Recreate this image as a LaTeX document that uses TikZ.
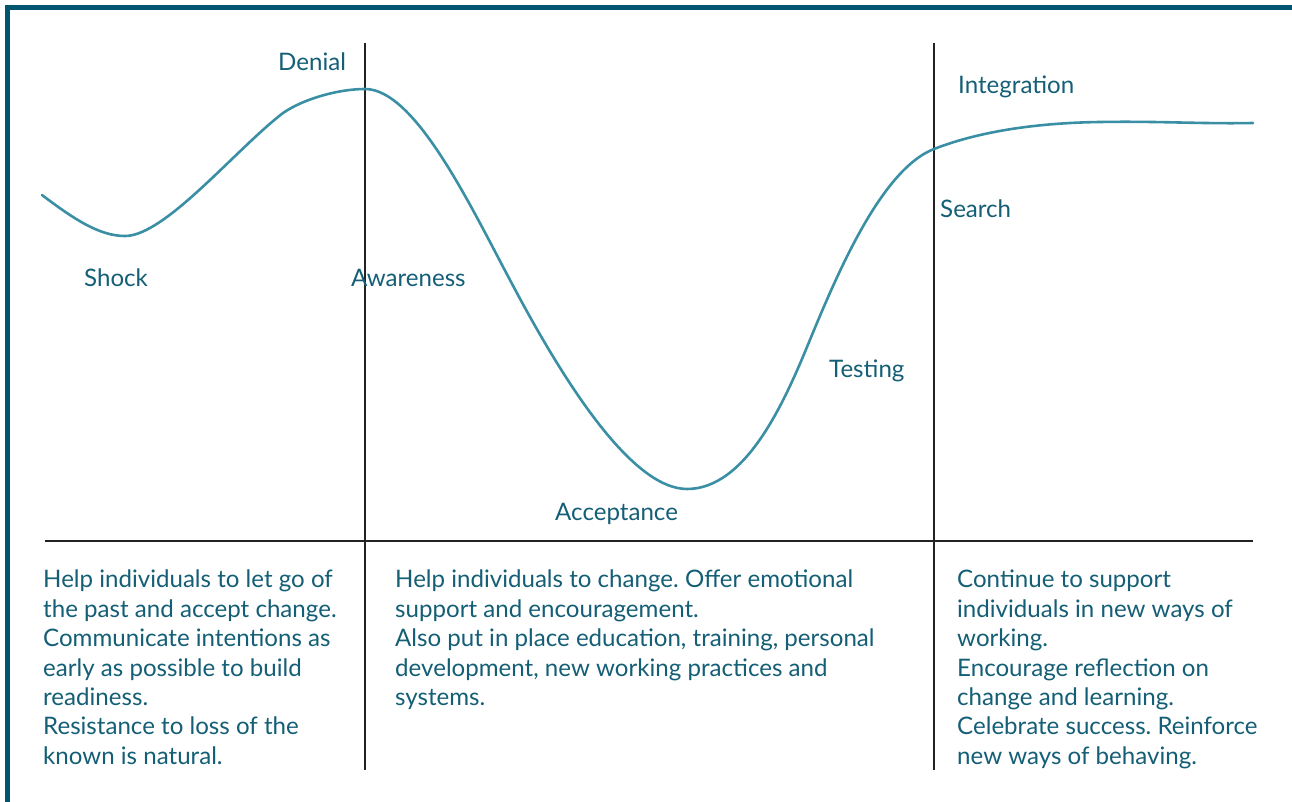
\documentclass[tikz,border=0pt]{standalone}
\usepackage{fontspec}
\setmainfont{Lato}
\frenchspacing
\definecolor{frame}{RGB}{0,86,112}
\definecolor{txt}{RGB}{20,94,118}
\definecolor{curve}{RGB}{58,143,165}
\definecolor{axis}{RGB}{34,34,34}
\begin{document}
\begin{tikzpicture}[x=1pt,y=-1pt,
  lbl/.style={anchor=base west,inner sep=0pt,text=txt,font=\fontsize{24.1}{29.4}\selectfont},
  block/.style={anchor=north west,inner sep=0pt,align=left,text=txt,font=\fontsize{24.1}{29.4}\selectfont},
  axisline/.style={draw=axis,line width=2pt},
  framebar/.style={draw=frame,line width=5pt}]
\useasboundingbox (0,0) rectangle (1292,802);
% frame
\draw[framebar] (7.5,802) -- (7.5,7.5) -- (1292,7.5);
% axes
\coordinate (v1t) at (365,43); \coordinate (v1b) at (365,770);
\coordinate (v2t) at (934,43); \coordinate (v2b) at (934,770);
\coordinate (hl) at (45,541); \coordinate (hr) at (1253,541);
\draw[axisline] (v1t) -- (v1b);
\draw[axisline] (v2t) -- (v2b);
\draw[axisline] (hl) -- (hr);
% curve
\draw[curve,line width=2.6pt,line cap=round]
 (42,195) .. controls (75,220) and (100,236) .. (125,236)
 .. controls (165,236) and (235,150) .. (283,113)
 .. controls (305,98) and (340,89) .. (365,89)
 .. controls (415,89) and (470,205) .. (510,280)
 .. controls (560,375) and (630,489) .. (687,489)
 .. controls (745,489) and (783,405) .. (807,347)
 .. controls (835,279) and (880,170) .. (934,149)
 .. controls (975,133) and (1030,123) .. (1100,122)
 .. controls (1160,121) and (1200,124) .. (1253,123);
% labels
\node[lbl] (denial) at (278,71) {Denial};
\node[lbl] (shock) at (84,287) {Shock};
\node[lbl] (aware) at (351,287) {Awareness};
\node[lbl] (accept) at (555,520) {Acceptance};
\node[lbl] (testing) at (829,377) {Testing};
\node[lbl] (search) at (940,218) {Search};
\node[lbl] (integ) at (958,94) {Integration};
% text blocks
\node[block] (b1) at (43,570) {Help individuals to let go of\\the past and accept change.\\Communicate intentions as\\early as possible to build\\readiness.\\Resistance to loss of the\\known is natural.};
\node[block] (b2) at (395,570) {Help individuals to change. Offer emotional\\support and encouragement.\\Also put in place education, training, personal\\development, new working practices and\\systems.};
\node[block] (b3) at (957,570) {Continue to support\\individuals in new ways of\\working.\\Encourage reflection on\\change and learning.\\Celebrate success. Reinforce\\new ways of behaving.};
\end{tikzpicture}
\end{document}
